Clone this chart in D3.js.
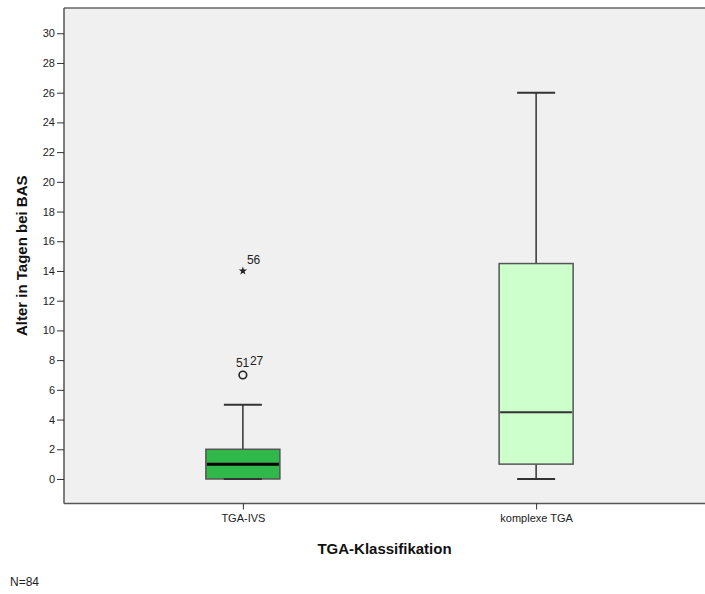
<!DOCTYPE html>
<html lang="de">
<head>
  <meta charset="UTF-8">
  <title>Alter in Tagen bei BAS</title>
  <script src="https://d3js.org/d3.v7.min.js"></script>
  <style>
    body {
      margin: 0;
      background: #fff;
      font-family: "Liberation Sans", Arial, sans-serif;
    }
    svg { display: block; }
    .tick text { font-size: 11px; fill: #222; }
    .axis-title { font-size: 15px; font-weight: bold; fill: #111; }
  </style>
</head>
<body>
  <svg width="705" height="594"></svg>

  <script>
    // data
    const categories = ["TGA-IVS", "komplexe TGA"];
    const whiskerLow = [0, 0];
    const q1 = [0, 1];
    const median = [1, 4.5];
    const q3 = [2, 14.5];
    const whiskerHigh = [5, 26];
    const boxFill = ["#31b84b", "#ccffcc"];
    const medianWidth = [3, 2];

    // outliers (circle) and extremes (star) with case labels
    const outliers = [
      { cat: "TGA-IVS", value: 7, labels: ["51", "27"] }
    ];
    const extremes = [
      { cat: "TGA-IVS", value: 14, labels: ["56"] }
    ];

    const yTicks = d3.range(0, 31, 2);

    const svg = d3.select("svg");
    const plot = { left: 64, top: 8, right: 715, bottom: 503.5 };

    const x = d3.scalePoint()
      .domain(categories)
      .range([plot.left, plot.right])
      .padding(0.61);

    const y = d3.scaleLinear()
      .domain([-1.65, 31.7])
      .range([plot.bottom, plot.top]);

    const boxW = 74, capW = 38;

    // plot background
    svg.append("rect")
      .attr("x", plot.left)
      .attr("y", plot.top)
      .attr("width", plot.right - plot.left)
      .attr("height", plot.bottom - plot.top)
      .attr("fill", "#f0f0f0")
      .attr("stroke", "none");

    // frame lines: top, left, bottom
    svg.append("line")
      .attr("x1", plot.left).attr("x2", 705)
      .attr("y1", plot.top).attr("y2", plot.top)
      .attr("stroke", "#666").attr("stroke-width", 1.5);

    // axes
    const yAxis = svg.append("g")
      .attr("transform", `translate(${plot.left},0)`)
      .call(d3.axisLeft(y).tickValues(yTicks).tickSize(7).tickPadding(2));
    yAxis.select(".domain").attr("stroke", "#555").attr("stroke-width", 1.5)
      .attr("d", `M0,${plot.top}V${plot.bottom}`);
    yAxis.selectAll(".tick line").attr("stroke", "#333");
    yAxis.selectAll(".tick text").style("font-family", "Liberation Sans, Arial, sans-serif");

    const xAxis = svg.append("g")
      .attr("transform", `translate(0,${plot.bottom})`)
      .call(d3.axisBottom(x).tickSize(6).tickPadding(5));
    xAxis.select(".domain").attr("stroke", "#555").attr("stroke-width", 1.5)
      .attr("d", `M${plot.left},0H705`);
    xAxis.selectAll(".tick line").attr("stroke", "#333");
    xAxis.selectAll(".tick text").style("font-family", "Liberation Sans, Arial, sans-serif");

    // boxes
    const boxes = svg.append("g").selectAll("g")
      .data(categories)
      .join("g");

    boxes.append("line")
      .attr("x1", d => x(d)).attr("x2", d => x(d))
      .attr("y1", (d, i) => y(q3[i])).attr("y2", (d, i) => y(whiskerHigh[i]))
      .attr("stroke", "#333").attr("stroke-width", 1.5);
    boxes.append("line")
      .attr("x1", d => x(d)).attr("x2", d => x(d))
      .attr("y1", (d, i) => y(q1[i])).attr("y2", (d, i) => y(whiskerLow[i]))
      .attr("stroke", "#333").attr("stroke-width", 1.5);
    boxes.append("line")
      .attr("x1", d => x(d) - capW / 2).attr("x2", d => x(d) + capW / 2)
      .attr("y1", (d, i) => y(whiskerHigh[i])).attr("y2", (d, i) => y(whiskerHigh[i]))
      .attr("stroke", "#333").attr("stroke-width", 2);

    boxes.append("rect")
      .attr("x", d => x(d) - boxW / 2)
      .attr("y", (d, i) => y(q3[i]))
      .attr("width", boxW)
      .attr("height", (d, i) => y(q1[i]) - y(q3[i]))
      .attr("fill", (d, i) => boxFill[i])
      .attr("stroke", "#555").attr("stroke-width", 1.5);

    boxes.append("line")
      .attr("x1", d => x(d) - capW / 2).attr("x2", d => x(d) + capW / 2)
      .attr("y1", (d, i) => y(whiskerLow[i])).attr("y2", (d, i) => y(whiskerLow[i]))
      .attr("stroke", "#333").attr("stroke-width", 2);

    boxes.append("line")
      .attr("x1", d => x(d) - boxW / 2 + 1).attr("x2", d => x(d) + boxW / 2 - 1)
      .attr("y1", (d, i) => y(median[i])).attr("y2", (d, i) => y(median[i]))
      .attr("stroke", (d, i) => i === 0 ? "#000" : "#333")
      .attr("stroke-width", (d, i) => medianWidth[i]);

    // outliers
    const out = svg.append("g").selectAll("g").data(outliers).join("g");
    out.append("circle")
      .attr("cx", d => x(d.cat)).attr("cy", d => y(d.value))
      .attr("r", 3.8)
      .attr("fill", "none").attr("stroke", "#222").attr("stroke-width", 1.6);
    out.append("text")
      .attr("x", d => x(d.cat) - 7).attr("y", d => y(d.value) - 8)
      .attr("font-size", 12).attr("fill", "#222")
      .text(d => d.labels[0]);
    out.append("text")
      .attr("x", d => x(d.cat) + 7).attr("y", d => y(d.value) - 10)
      .attr("font-size", 12).attr("fill", "#222")
      .text(d => d.labels[1]);

    // extremes
    const ext = svg.append("g").selectAll("g").data(extremes).join("g");
    ext.append("path")
      .attr("d", d3.symbol().type(d3.symbolStar).size(22))
      .attr("transform", d => `translate(${x(d.cat)},${y(d.value)})`)
      .attr("fill", "#222");
    ext.append("text")
      .attr("x", d => x(d.cat) + 4).attr("y", d => y(d.value) - 7)
      .attr("font-size", 12).attr("fill", "#222")
      .text(d => d.labels[0]);

    // titles
    svg.append("text")
      .attr("class", "axis-title")
      .attr("transform", `translate(27,${(plot.top + plot.bottom) / 2}) rotate(-90)`)
      .attr("text-anchor", "middle")
      .text("Alter in Tagen bei BAS");

    svg.append("text")
      .attr("class", "axis-title")
      .attr("x", (plot.left + 705) / 2)
      .attr("y", 554)
      .attr("text-anchor", "middle")
      .text("TGA-Klassifikation");

    svg.append("text")
      .attr("x", 10)
      .attr("y", 586)
      .attr("font-size", 12)
      .attr("fill", "#222")
      .text("N=84");
  </script>
</body>
</html>
